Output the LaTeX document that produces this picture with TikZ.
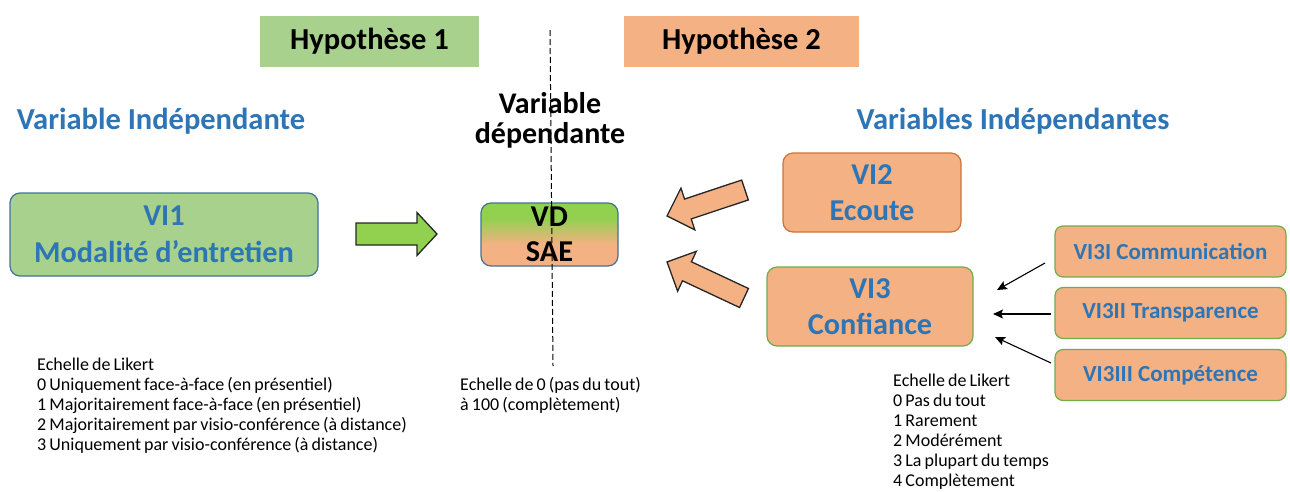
\documentclass[tikz,border=0pt]{standalone}
\usepackage{fontspec}
\setmainfont{Carlito}
\usetikzlibrary{arrows.meta,calc}
\definecolor{hgreen}{HTML}{A9D18E}
\definecolor{horange}{HTML}{F4B183}
\definecolor{agreen}{HTML}{92D050}
\definecolor{tblue}{HTML}{2E75B6}
\definecolor{bblue}{HTML}{41719C}
\definecolor{borange}{HTML}{C9743A}
\definecolor{bgreen}{HTML}{70AD47}
\pgfdeclareverticalshading{vdshade}{100bp}{color(0bp)=(horange); color(42bp)=(horange); color(63bp)=(agreen); color(100bp)=(agreen)}
\newcommand{\tightsp}{\spaceskip=3.1pt plus 1pt minus 0.5pt\relax}
\newcommand{\blockarr}[7]{%
  \begin{scope}[shift={#1}, rotate=#2]
    \draw[#7] (0,-#4/2) -- (#3-#6,-#4/2) -- (#3-#6,-#5/2) -- (#3,0) -- (#3-#6,#5/2) -- (#3-#6,#4/2) -- (0,#4/2) -- cycle;
  \end{scope}}
\begin{document}
\begin{tikzpicture}[x=1pt,y=1pt,
  hyp/.style={inner sep=0pt, font=\bfseries\fontsize{30.5}{34}\selectfont, text=black},
  title/.style={inner sep=0pt, font=\bfseries\fontsize{30.5}{30}\selectfont, text=tblue},
  dvtitle/.style={inner sep=0pt, align=center, font=\bfseries\fontsize{30}{30}\selectfont, text=black},
  vbox/.style={rounded corners=10pt, draw, line width=1.2pt, align=center, inner sep=0pt,
    font=\bfseries\fontsize{30.3}{36.5}\selectfont, text=tblue},
  subbox/.style={rounded corners=8pt, draw=bgreen, fill=horange, line width=1.2pt, inner sep=0pt,
    minimum width=231pt, minimum height=51pt, font=\bfseries\fontsize{23}{27}\selectfont, text=tblue},
  note/.style={inner sep=0pt, anchor=north west, align=left,
    font=\fontsize{18}{20}\selectfont\tightsp, text=black},
  smallarr/.style={-{Stealth[length=10pt,width=9pt,inset=2pt]}, line width=1.1pt, black},
  bigarrow/.style={line width=1.3pt, draw=black!85, line join=miter}
]
\useasboundingbox (0,0) rectangle (1290,-491);

% hypothesis headers
\node[hyp, fill=hgreen, minimum width=219pt, minimum height=51pt] (h1) at (369.5,-41.5) {Hypothèse 1};
\node[hyp, fill=horange, minimum width=235pt, minimum height=51pt] (h2) at (741.5,-41.5) {Hypothèse 2};

% titles
\node[title, anchor=base] (tvi) at (161,-129) {Variable Indépendante};
\node[title, anchor=base] (tvis) at (1013,-129) {Variables Indépendantes};
\node[dvtitle, anchor=north] (tvd) at (550,-92) {Variable\\dépendante};

% main boxes
\node[vbox, draw=bblue, fill=hgreen, minimum width=308pt, minimum height=83pt] (vi1) at (164,-234.5) {VI1\\Modalité d’entretien};
\node[vbox, draw=bblue, shading=vdshade, text=black, minimum width=137pt, minimum height=63pt,
  font=\bfseries\fontsize{30.3}{35}\selectfont] (vd) at (549.5,-234.5) {VD\\SAE};
\node[vbox, draw=borange, fill=horange, minimum width=178pt, minimum height=79pt] (vi2) at (872,-192.5) {VI2\\Ecoute};
\node[vbox, draw=bgreen, fill=horange, minimum width=206pt, minimum height=79pt] (vi3) at (870,-306.5) {VI3\\Confiance};

% sub boxes
\node[subbox] (vi3i) at (1170.5,-251.5) {VI3I Communication};
\node[subbox] (vi3ii) at (1170.5,-313) {VI3II Transparence};
\node[subbox] (vi3iii) at (1170.5,-375) {VI3III Compétence};

% block arrows
\blockarr{(356,-234)}{0}{81}{22}{43}{20}{bigarrow, fill=agreen}
\blockarr{(745,-190)}{198.4}{82.2}{21}{44}{22}{bigarrow, fill=horange}
\blockarr{(744,-298)}{154.9}{85}{21}{44}{22}{bigarrow, fill=horange}

% small arrows
\coordinate (s1) at (1045,-263); \coordinate (e1) at (997,-290);
\coordinate (s2) at (1051,-314); \coordinate (e2) at (993,-314);
\coordinate (s3) at (1051,-363); \coordinate (e3) at (995,-337);
\draw[smallarr] (s1) -- (e1);
\draw[smallarr] (s2) -- (e2);
\draw[smallarr] (s3) -- (e3);

% notes
\node[note] (n1) at (37,-358) {Echelle de Likert\\0 Uniquement face-à-face (en présentiel)\\1 Majoritairement face-à-face (en présentiel)\\2 Majoritairement par visio-conférence (à distance)\\3 Uniquement par visio-conférence (à distance)};
\node[note] (n2) at (460,-377) {Echelle de 0 (pas du tout)\\à 100 (complètement)};
\node[note] (n3) at (893,-374) {Echelle de Likert\\0 Pas du tout\\1 Rarement\\2 Modérément\\3 La plupart du temps\\4 Complètement};

% dashed separator
\coordinate (dtop) at (550,-30);
\coordinate (dbot) at (553,-366);
\draw[line width=1pt, dash pattern=on 6pt off 3pt] (dtop) -- (dbot);
\end{tikzpicture}
\end{document}
